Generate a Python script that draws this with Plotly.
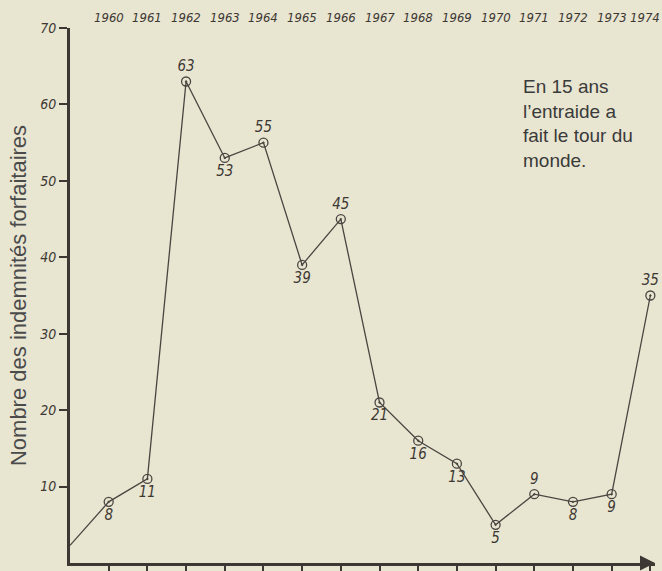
import plotly.graph_objects as go

years = [1960, 1961, 1962, 1963, 1964, 1965, 1966, 1967, 1968, 1969, 1970, 1971, 1972, 1973, 1974]
values = [8, 11, 63, 53, 55, 39, 45, 21, 16, 13, 5, 9, 8, 9, 35]
start_year = 1959
start_value = 2.3
label_pos = ["bottom center", "bottom center", "top center", "bottom center", "top center",
             "bottom center", "top center", "bottom center", "bottom center", "bottom center",
             "bottom center", "top center", "bottom center", "bottom center", "top center"]
y_ticks = [10, 20, 30, 40, 50, 60, 70]
ytitle = "Nombre des indemnités forfaitaires"
note = "En 15 ans<br>l’entraide a<br>fait le tour du<br>monde."

ink = "#3d3833"
paper = "#e8e5d1"
hand = "Liberation Sans Narrow, DejaVu Sans Condensed, Liberation Sans, sans-serif"
x_end = 1974.12

fig = go.Figure()
fig.add_trace(go.Scatter(
    x=[start_year] + years, y=[start_value] + values, mode="lines",
    line=dict(color="#4a4540", width=1.3), hoverinfo="skip", showlegend=False,
    cliponaxis=False))
fig.add_trace(go.Scatter(
    x=years, y=values, mode="markers+text",
    marker=dict(symbol="circle-open-dot", size=9, color="#4a4540", line=dict(width=1.3)),
    text=[str(v) for v in values], textposition=label_pos,
    textfont=dict(family=hand, size=15, color=ink, style="italic"),
    showlegend=False, cliponaxis=False))

annotations = [
    dict(x=y, y=1.0187, xref="x", yref="paper", text=str(y), showarrow=False,
         xanchor="center" if y != years[-1] else "right",
         xshift=0 if y != years[-1] else 12, yanchor="middle",
         font=dict(family=hand, size=13, color=ink, style="italic"))
    for y in years
]
annotations += [
    dict(text=note, xref="paper", yref="paper", x=0.771, y=0.914, xanchor="left", yanchor="top",
         showarrow=False, align="left",
         font=dict(family="Liberation Sans, Arial, sans-serif", size=19, color="#3a3a3a")),
    dict(x=x_end, y=0, xref="x", yref="y", ax=-14, ay=0, text="", showarrow=True,
         arrowhead=2, arrowsize=1.2, arrowwidth=2.5, arrowcolor=ink),
]

fig.update_layout(
    width=662, height=571,
    margin=dict(l=70, r=7, t=28, b=8),
    paper_bgcolor=paper, plot_bgcolor=paper,
    xaxis=dict(range=[start_year, x_end], showgrid=False, zeroline=False, automargin=False,
               showline=True, linecolor=ink, linewidth=2.5,
               tickmode="array", tickvals=years, ticks="outside", ticklen=10,
               tickcolor=ink, tickwidth=1.5, showticklabels=False),
    yaxis=dict(range=[0, 70], showgrid=False, zeroline=False, automargin=False,
               showline=True, linecolor=ink, linewidth=3,
               tickmode="array", tickvals=y_ticks, ticks="outside", ticklen=8,
               tickcolor=ink, tickwidth=1.5,
               tickfont=dict(family=hand, size=14, color=ink, style="italic"),
               title=dict(text=ytitle, font=dict(family="Liberation Sans, Arial, sans-serif",
                                                 size=22, color="#4a4a4a"), standoff=8)),
    annotations=annotations,
)

fig.write_html(
    "out.html",
    config={"displayModeBar": False},
    post_script="document.body.style.margin='0';document.body.style.overflow='hidden';"
                "document.body.style.background='" + paper + "';",
)
